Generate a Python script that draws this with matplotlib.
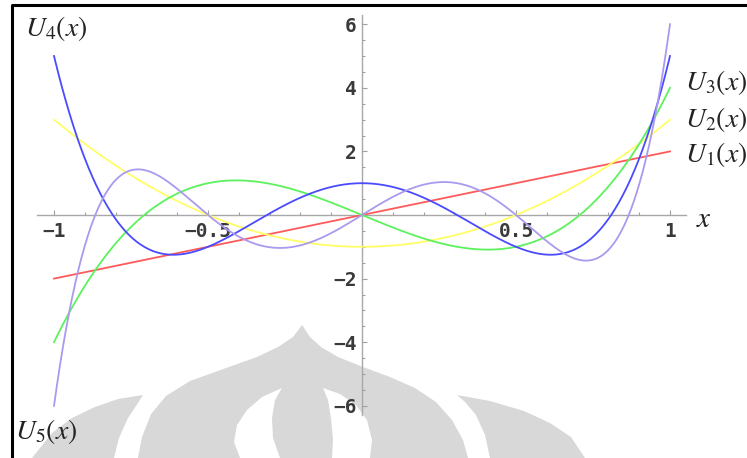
import matplotlib.pyplot as plt
import numpy as np
from matplotlib.patches import Polygon
from matplotlib.lines import Line2D
from matplotlib.ticker import FixedLocator, FixedFormatter

# Chebyshev polynomials of the second kind, coefficients (highest power first)
names = ['$U_1(x)$', '$U_2(x)$', '$U_3(x)$', '$U_4(x)$', '$U_5(x)$']
coef_u1 = [2, 0]
coef_u2 = [4, 0, -1]
coef_u3 = [8, 0, -4, 0]
coef_u4 = [16, 0, -12, 0, 1]
coef_u5 = [32, 0, -32, 0, 6, 0]
colors = ['#ff5a5a', '#ffff66', '#5cf25c', '#4a4aff', '#ab99ee']

x_ticks = [-1, -0.5, 0.5, 1]
x_labels = ['\u22121', '\u22120.5', '0.5', '1']
y_ticks = [-6, -4, -2, 2, 4, 6]
y_labels = ['\u22126', '\u22124', '\u22122', '2', '4', '6']

# label anchors in data units (left edge, vertical centre)
label_pos = [(1.05, 1.89), (1.05, 2.99), (1.05, 4.18), (-1.094, 5.85), (-1.127, -6.82)]

W, H = 747, 458


def px(points):
    # pixel coords (origin top-left) -> figure fraction
    return [(a / W, 1 - b / H) for a, b in points]


def main():
    plt.rcParams['mathtext.fontset'] = 'stix'
    fig = plt.figure(figsize=(W / 100, H / 100), dpi=100)
    fig.patch.set_facecolor('white')

    # faint watermark in the lower half
    gray = '#d8d8d8'
    dome = [(302, 325), (310, 337), (321, 347), (338, 357), (363, 367), (390, 377),
            (415, 388), (436, 402), (452, 420), (463, 440), (468, 458),
            (138, 458), (142, 437), (151, 414), (166, 396), (190, 381), (229, 367),
            (257, 357), (278, 347), (293, 337)]
    hole_left = [(282, 388), (262, 397), (247, 410), (237, 425), (234, 442), (240, 458),
                 (280, 458), (273, 438), (272, 418), (275, 400)]
    hole_right = [(323, 388), (340, 394), (356, 405), (367, 420), (372, 440), (370, 458),
                  (332, 458), (333, 440), (331, 418), (328, 400)]
    wing_left = [(143, 395), (118, 399), (95, 407), (72, 418), (52, 433), (32, 458),
                 (114, 458), (119, 438), (128, 418), (138, 403)]
    wing_right = [(457, 395), (490, 401), (524, 411), (550, 423), (571, 437), (585, 458),
                  (490, 458), (485, 435), (476, 415), (465, 402)]
    for shape, c in [(dome, gray), (hole_left, 'white'), (hole_right, 'white'),
                     (wing_left, gray), (wing_right, gray)]:
        fig.patches.append(Polygon(px(shape), closed=True, transform=fig.transFigure,
                                   facecolor=c, edgecolor='none', zorder=-5))

    ax = fig.add_axes([0, 0, 1, 1])
    ax.set_zorder(2)
    ax.patch.set_alpha(0)
    ax.set_xlim(-362 / 308, (W - 362) / 308)
    ax.set_ylim(-(H - 215) / 31.8, 215 / 31.8)

    for side in ['top', 'right']:
        ax.spines[side].set_visible(False)
    ax.spines['left'].set_position(('data', 0))
    ax.spines['bottom'].set_position(('data', 0))
    ax.spines['left'].set_visible(False)
    ax.spines['bottom'].set_visible(False)
    # axis lines drawn by hand so they stop just past the ticks
    axis_col = '#a8a8a8'
    ax.plot([-1.055, 1.052], [0, 0], color=axis_col, lw=1.0, zorder=1)
    ax.plot([0, 0], [-6.29, 6.29], color=axis_col, lw=1.0, zorder=1)

    ax.xaxis.set_major_locator(FixedLocator(x_ticks))
    ax.xaxis.set_major_formatter(FixedFormatter(x_labels))
    ax.xaxis.set_minor_locator(FixedLocator(np.round(np.arange(-1, 1.01, 0.1), 2)))
    ax.yaxis.set_major_locator(FixedLocator(y_ticks))
    ax.yaxis.set_major_formatter(FixedFormatter(y_labels))
    ax.yaxis.set_minor_locator(FixedLocator(np.arange(-6, 6.01, 0.5)))
    ax.tick_params(which='both', direction='in', color='#a0a0a0', width=0.8)
    ax.tick_params(which='major', length=3.5)
    ax.tick_params(which='minor', length=2.2)
    ax.tick_params(axis='x', which='major', pad=5, labelsize=14, labelcolor='#3a3a3a')
    ax.tick_params(axis='y', which='major', pad=4, labelsize=14, labelcolor='#3a3a3a')
    for lab in ax.get_xticklabels() + ax.get_yticklabels():
        lab.set_fontfamily('DejaVu Sans Mono')
        lab.set_fontweight('bold')

    x = np.linspace(-1, 1, 800)
    for coef, c in zip([coef_u1, coef_u2, coef_u3, coef_u4, coef_u5], colors):
        ax.plot(x, np.polyval(coef, x), color=c, lw=1.3, zorder=3, clip_on=False)

    for name, (lx, ly) in zip(names, label_pos):
        ax.text(lx, ly, name, fontsize=20, color='#222222', ha='left', va='center')
    ax.text(1.11, -0.12, '$x$', fontsize=21, color='#222222', ha='center', va='center')

    # frame on top and left edges
    fig.lines.append(Line2D([12 / W, 12 / W, 1], [0, 1 - 5 / H, 1 - 5 / H],
                            transform=fig.transFigure, color='black', lw=2.2))

    fig.savefig('out.png', dpi=100)


if __name__ == "__main__":
    main()
